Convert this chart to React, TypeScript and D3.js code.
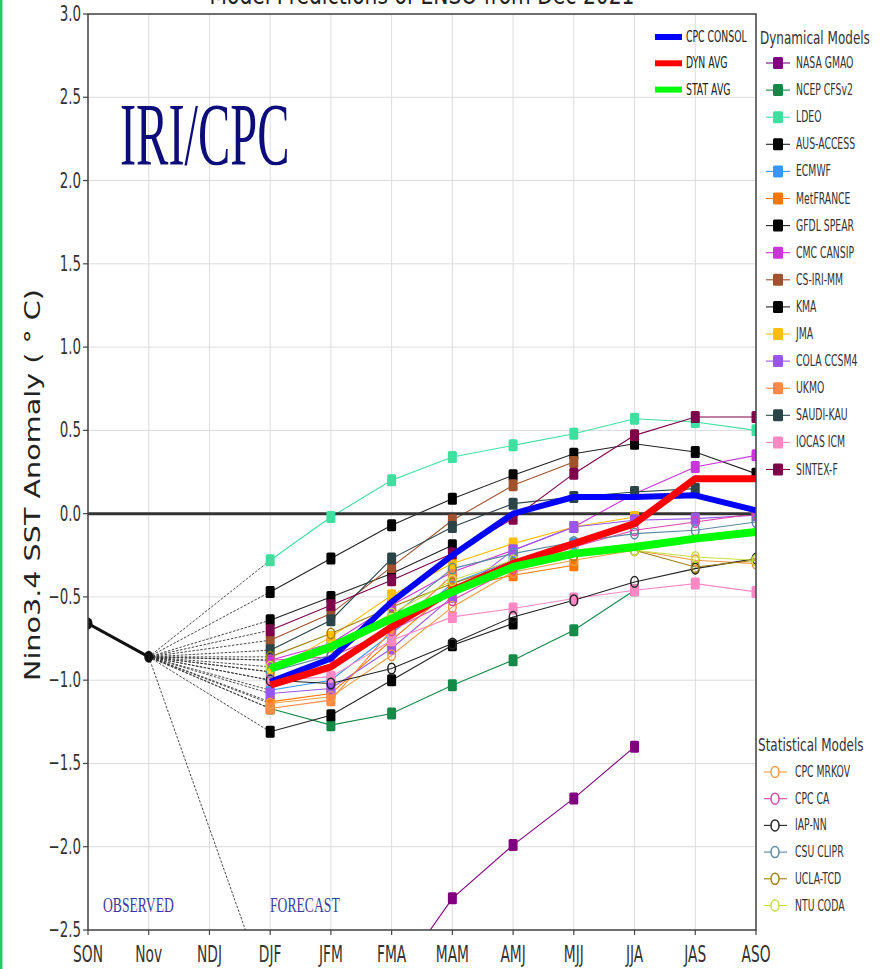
import React from 'react';
import * as d3 from 'd3';

// ---------- DATA ----------
const months = ["SON", "Nov", "NDJ", "DJF", "JFM", "FMA", "MAM", "AMJ", "MJJ", "JJA", "JAS", "ASO"];
const forecastMonths = ["DJF", "JFM", "FMA", "MAM", "AMJ", "MJJ", "JJA", "JAS", "ASO"];
const observedMonths = ["SON", "Nov"];
const observed = [-0.66, -0.86];
const yTicks = [3.0, 2.5, 2.0, 1.5, 1.0, 0.5, 0.0, -0.5, -1.0, -1.5, -2.0, -2.5];
const yTickLabels = ["3.0", "2.5", "2.0", "1.5", "1.0", "0.5", "0.0", "\u22120.5", "\u22121.0", "\u22121.5", "\u22122.0", "\u22122.5"];

// Dynamical models (DJF .. ASO)
const nasaGmao = [-2.92, -3.05, -2.83, -2.31, -1.99, -1.71, -1.40, null, null];
const ncepCfsv2 = [-1.17, -1.27, -1.20, -1.03, -0.88, -0.70, -0.46, null, null];
const ldeo = [-0.28, -0.02, 0.20, 0.34, 0.41, 0.48, 0.57, 0.55, 0.50];
const ausAccess = [-0.47, -0.27, -0.07, 0.09, 0.23, 0.36, 0.42, 0.37, 0.24];
const ecmwf = [-1.06, -1.00, -0.72, -0.42, -0.28, -0.18, null, null, null];
const metFrance = [-1.13, -1.08, -0.76, -0.45, -0.37, -0.31, null, null, null];
const gfdlSpear = [-0.64, -0.50, -0.36, -0.19, null, null, null, null, null];
const cmcCansip = [-0.88, -0.78, -0.55, -0.35, -0.22, -0.08, 0.12, 0.28, 0.35];
const csIriMm = [-0.76, -0.60, -0.32, -0.04, 0.17, 0.31, null, null, null];
const kma = [-1.31, -1.21, -1.00, -0.79, -0.66, null, null, null, null];
const jma = [-0.95, -0.74, -0.49, -0.30, -0.18, -0.08, -0.02, null, null];
const colaCcsm4 = [-1.08, -1.05, -0.81, -0.50, -0.22, -0.08, -0.04, -0.03, -0.01];
const ukmo = [-1.17, -1.12, -0.70, -0.37, null, null, null, null, null];
const saudiKau = [-0.82, -0.64, -0.27, -0.08, 0.06, 0.10, 0.13, 0.15, null];
const iocasIcm = [-1.00, -0.98, -0.76, -0.62, -0.57, -0.51, -0.46, -0.42, -0.47];
const sintexF = [-0.70, -0.55, -0.40, -0.24, -0.03, 0.24, 0.47, 0.58, 0.58];

const dynNames = ["NASA GMAO", "NCEP CFSv2", "LDEO", "AUS-ACCESS", "ECMWF", "MetFRANCE", "GFDL SPEAR", "CMC CANSIP", "CS-IRI-MM", "KMA", "JMA", "COLA CCSM4", "UKMO", "SAUDI-KAU", "IOCAS ICM", "SINTEX-F"];
const dynColors = ["#800080", "#158a48", "#3ee0a0", "#000000", "#3399ff", "#ff7700", "#000000", "#cc33dd", "#a0522d", "#000000", "#ffbf00", "#9955ee", "#ff8844", "#2a4448", "#ff88c4", "#80004a"];
const dynValues = [nasaGmao, ncepCfsv2, ldeo, ausAccess, ecmwf, metFrance, gfdlSpear, cmcCansip, csIriMm, kma, jma, colaCcsm4, ukmo, saudiKau, iocasIcm, sintexF];

// Statistical models (DJF .. ASO)
const cpcMrkov = [-1.14, -1.10, -0.85, -0.56, -0.35, -0.28, -0.22, -0.28, -0.30];
const cpcCa = [-0.88, -0.86, -0.70, -0.52, -0.33, -0.20, -0.10, -0.05, 0.00];
const iapNn = [-1.00, -1.02, -0.93, -0.78, -0.62, -0.52, -0.41, -0.33, -0.27];
const csuClipr = [-0.95, -0.85, -0.62, -0.33, -0.24, -0.17, -0.12, -0.10, -0.05];
const uclaTcd = [-0.86, -0.72, -0.56, -0.42, -0.30, -0.25, -0.22, -0.32, -0.28];
const ntuCoda = [-0.92, -0.80, -0.60, -0.40, -0.28, -0.22, -0.22, -0.26, -0.28];

const statNames = ["CPC MRKOV", "CPC CA", "IAP-NN", "CSU CLIPR", "UCLA-TCD", "NTU CODA"];
const statColors = ["#f09a40", "#dd44aa", "#222222", "#5a8aa0", "#a08010", "#c8e040"];
const statValues = [cpcMrkov, cpcCa, iapNn, csuClipr, uclaTcd, ntuCoda];

// Averages
const cpcConsol = [-1.01, -0.87, -0.53, -0.25, 0.00, 0.10, 0.10, 0.11, 0.02];
const dynAvg = [-1.03, -0.92, -0.68, -0.46, -0.30, -0.18, -0.06, 0.21, 0.21];
const statAvg = [-0.93, -0.80, -0.63, -0.47, -0.32, -0.24, -0.20, -0.15, -0.11];
const avgNames = ["CPC CONSOL", "DYN AVG", "STAT AVG"];
const avgColors = ["#0000ff", "#ff0000", "#00ff00"];
const avgValues = [cpcConsol, dynAvg, statAvg];
const avgWidths = [6, 7, 8];

// ---------- LAYOUT ----------
const W = 883;
const H = 969;
const X0 = 88, X1 = 756, Y0 = 14, Y1 = 930;
const SANS = "'DejaVu Sans', sans-serif";
const SERIF = "'Liberation Serif', 'Times New Roman', serif";

const x = d3.scalePoint<string>().domain(months).range([X0, X1]);
const y = d3.scaleLinear().domain([-2.5, 3.0]).range([Y1, Y0]);

type P = [string, number | null];
const lineGen = d3
  .line<P>()
  .defined((d) => d[1] !== null && d[1] !== undefined)
  .x((d) => x(d[0]) as number)
  .y((d) => y(d[1] as number));

const pts = (vals: (number | null)[]): P[] => forecastMonths.map((m, i) => [m, vals[i]]);

function T(props: { x: number; y: number; sx?: number; fs: number; anchor?: string; fill?: string; family?: string; children: React.ReactNode; weight?: string }) {
  const { x: tx, y: ty, sx = 0.62, fs, anchor = "start", fill = "#222", family = SANS, weight } = props;
  return (
    <text
      transform={`translate(${tx},${ty}) scale(${sx},1)`}
      fontSize={fs}
      fontFamily={family}
      textAnchor={anchor}
      fill={fill}
      fontWeight={weight}
    >
      {props.children}
    </text>
  );
}

const MW = 9, MH = 12;

export default function App() {
  const lineColor = (c: string) => (c === "#000000" ? "#222" : c);
  const nov = x("Nov") as number;
  const novY = y(observed[1]);

  return (
    <svg width={W} height={H} style={{ position: "absolute", left: 0, top: 0, background: "#fff" }}>
      <defs>
        <clipPath id="plot">
          <rect x={X0} y={Y0} width={X1 - X0} height={Y1 - Y0} />
        </clipPath>
      </defs>
      <rect x={0} y={0} width={W} height={H} fill="#fff" />
      <rect x={0} y={0} width={2.5} height={H} fill="#22cc66" />

      {/* Title (cut off at top, as in the source image) */}
      <text x={422} y={4} fontSize={26} fontFamily={SANS} textAnchor="middle" fill="#222" textLength={425} lengthAdjust="spacingAndGlyphs">
        Model Predictions of ENSO from Dec 2021
      </text>

      {/* Grid */}
      <g stroke="#dcdcdc" strokeWidth={1}>
        {months.map((m) => (
          <line key={m} x1={x(m)} x2={x(m)} y1={Y0} y2={Y1} />
        ))}
        {yTicks.map((t) => (
          <line key={t} x1={X0} x2={X1} y1={y(t)} y2={y(t)} />
        ))}
      </g>

      <g clipPath="url(#plot)">
        {/* Connectors from last observation */}
        {[...dynValues, ...statValues].map((vals, i) => (
          <line
            key={"c" + i}
            x1={nov}
            y1={novY}
            x2={x("DJF")}
            y2={y(vals[0] as number)}
            stroke="#333"
            strokeWidth={0.9}
            strokeDasharray="2.5,1.5"
          />
        ))}

        {/* Model lines */}
        {dynValues.map((vals, i) => (
          <path key={"dl" + i} d={lineGen(pts(vals)) || ""} fill="none" stroke={lineColor(dynColors[i])} strokeWidth={1.1} />
        ))}
        {statValues.map((vals, i) => (
          <path key={"sl" + i} d={lineGen(pts(vals)) || ""} fill="none" stroke={statColors[i]} strokeWidth={1.1} />
        ))}

        {/* Zero line */}
        <line x1={X0} x2={X1} y1={y(0)} y2={y(0)} stroke="#333" strokeWidth={3} />

        {/* Model markers */}
        {dynValues.map((vals, i) =>
          pts(vals)
            .filter((d) => d[1] !== null)
            .map((d, j) => (
              <rect
                key={"dm" + i + "-" + j}
                x={(x(d[0]) as number) - MW / 2}
                y={y(d[1] as number) - MH / 2}
                width={MW}
                height={MH}
                rx={1.5}
                fill={dynColors[i]}
              />
            ))
        )}
        {statValues.map((vals, i) =>
          pts(vals)
            .filter((d) => d[1] !== null)
            .map((d, j) => (
              <ellipse
                key={"sm" + i + "-" + j}
                cx={x(d[0]) as number}
                cy={y(d[1] as number)}
                rx={3.8}
                ry={5.3}
                fill="none"
                stroke={statColors[i]}
                strokeWidth={1.5}
              />
            ))
        )}

        {/* Observed */}
        <path
          d={d3.line<number>().x((_, i) => x(observedMonths[i]) as number).y((v) => y(v))(observed) || ""}
          stroke="#111"
          strokeWidth={3}
          fill="none"
        />
        {observed.map((v, i) => (
          <ellipse key={"o" + i} cx={x(observedMonths[i]) as number} cy={y(v)} rx={4.5} ry={6} fill="#111" />
        ))}

        {/* Averages */}
        {avgValues.map((vals, i) => (
          <path
            key={"a" + i}
            d={lineGen(pts(vals)) || ""}
            fill="none"
            stroke={avgColors[i]}
            strokeWidth={avgWidths[i]}
            strokeLinejoin="round"
          />
        ))}
      </g>

      {/* Frame */}
      <rect x={X0} y={Y0} width={X1 - X0} height={Y1 - Y0} fill="none" stroke="#444" strokeWidth={1.5} />
      {/* Y ticks */}
      {yTicks.map((t, i) => (
        <g key={"yt" + t}>
          <line x1={X0 - 5} x2={X0} y1={y(t)} y2={y(t)} stroke="#444" strokeWidth={1.2} />
          <T x={X0 - 7} y={y(t) + 7} fs={21} sx={0.64} anchor="end" fill="#333">
            {yTickLabels[i]}
          </T>
        </g>
      ))}
      {/* X ticks */}
      {months.map((m) => (
        <g key={"xt" + m}>
          <line x1={x(m)} x2={x(m)} y1={Y1} y2={Y1 + 5} stroke="#444" strokeWidth={1.2} />
          <T x={x(m) as number} y={962} fs={23} sx={0.6} anchor="middle" fill="#333">
            {m}
          </T>
        </g>
      ))}

      {/* Y axis label */}
      <text
        transform={`translate(40,485) rotate(-90)`}
        fontSize={22}
        fontFamily={SANS}
        textAnchor="middle"
        fill="#222"
        textLength={392}
        lengthAdjust="spacingAndGlyphs"
      >
        Nino3.4 SST Anomaly ( ° C)
      </text>

      {/* Annotations */}
      <T x={120} y={164} fs={88} sx={0.55} family={SERIF} fill="#0c0c7a">
        IRI/CPC
      </T>
      <T x={103} y={912} fs={22} sx={0.62} family={SERIF} fill="#3a3aa0">
        OBSERVED
      </T>
      <T x={270} y={912} fs={22} sx={0.62} family={SERIF} fill="#3a3aa0">
        FORECAST
      </T>

      {/* Average legend */}
      {avgNames.map((n, i) => {
        const ly = 37 + 26.3 * i;
        return (
          <g key={"al" + n}>
            <line x1={655} x2={682} y1={ly} y2={ly} stroke={avgColors[i]} strokeWidth={6} />
            <T x={686} y={ly + 5} fs={15} sx={0.62} fill="#222">
              {n}
            </T>
          </g>
        );
      })}

      {/* Dynamical legend */}
      <T x={760} y={44} fs={18.5} sx={0.65} fill="#333">
        Dynamical Models
      </T>
      {dynNames.map((n, i) => {
        const ly = 63 + 27.1 * i;
        return (
          <g key={"dl" + n}>
            <line x1={766} x2={790} y1={ly} y2={ly} stroke={lineColor(dynColors[i])} strokeWidth={1.1} />
            <rect x={778 - 5} y={ly - 6} width={10} height={12} rx={1.5} fill={dynColors[i]} />
            <T x={796} y={ly + 5} fs={15} sx={0.62} fill="#333">
              {n}
            </T>
          </g>
        );
      })}

      {/* Statistical legend */}
      <T x={758} y={751} fs={18.5} sx={0.65} fill="#333">
        Statistical Models
      </T>
      {statNames.map((n, i) => {
        const ly = 772 + 26.7 * i;
        return (
          <g key={"sl" + n}>
            <line x1={764} x2={787} y1={ly} y2={ly} stroke={statColors[i]} strokeWidth={1.1} />
            <ellipse cx={775} cy={ly} rx={4} ry={5.5} fill="#fff" stroke={statColors[i]} strokeWidth={1.5} />
            <T x={795} y={ly + 5} fs={15} sx={0.62} fill="#333">
              {n}
            </T>
          </g>
        );
      })}
    </svg>
  );
}
